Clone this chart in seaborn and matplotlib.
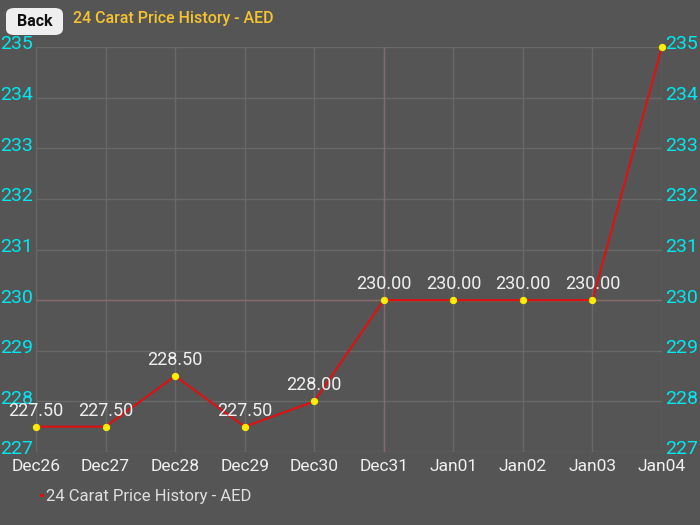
import matplotlib
matplotlib.use("Agg")
import matplotlib.pyplot as plt
import seaborn as sns
import pandas as pd
from matplotlib.patches import FancyBboxPatch

dates = ["Dec26", "Dec27", "Dec28", "Dec29", "Dec30", "Dec31", "Jan01", "Jan02", "Jan03", "Jan04"]
prices = [227.5, 227.5, 228.5, 227.5, 228.0, 230.0, 230.0, 230.0, 230.0, 235.0]
yticks = [227, 228, 229, 230, 231, 232, 233, 234, 235]
title = "24 Carat Price History - AED"

df = pd.DataFrame({"idx": range(len(dates)), "date": dates, "price": prices})

sns.set_style("dark")
plt.rcParams["font.family"] = ["Roboto", "DejaVu Sans"]

bg = "#555555"
fig = plt.figure(figsize=(7, 5.25), dpi=100, facecolor=bg)
ax = fig.add_axes([36/700, 1-452/525, 626/700, 405/525])
ax.set_facecolor(bg)

sns.lineplot(data=df, x="idx", y="price", ax=ax, color="#e01010", linewidth=1.5,
             marker="o", markersize=4.5, markerfacecolor="#ffee00", markeredgecolor="#ffee00",
             zorder=5, clip_on=False)

ax.set_xlim(0, len(dates) - 1)
ax.set_ylim(227, 235)
for s in ax.spines.values():
    s.set_visible(False)

grid_c = "#686868"
for i in range(len(dates)):
    ax.axvline(i, color=grid_c, lw=1, zorder=1)
for y in yticks:
    ax.axhline(y, color=grid_c, lw=1, zorder=1)
# highlight crosshair
ax.axvline(5, color="#87686c", lw=1, zorder=2)
ax.axhline(230, color="#87686c", lw=1, zorder=2)

ax.set_xticks(range(len(dates)))
ax.set_xticklabels(dates, color="#f0f0f0", fontsize=12.5)
ax.tick_params(axis="x", length=0, pad=5)
ax.set_yticks([])
ax.set_xlabel("")
ax.set_ylabel("")

for y in yticks:
    ax.text(-0.005, y + 0.05, str(y), transform=ax.get_yaxis_transform(), ha="right", va="center",
            color="#00e8f0", fontsize=14)
    ax.text(1.005, y + 0.05, str(y), transform=ax.get_yaxis_transform(), ha="left", va="center",
            color="#00e8f0", fontsize=14)

for i, (d, p) in enumerate(zip(dates, prices)):
    if i == len(dates) - 1:
        continue
    ax.annotate(f"{p:.2f}", (i, p), xytext=(0, 5), textcoords="offset points",
                ha="center", va="bottom", color="#f0f0f0", fontsize=13, zorder=6)

# top bar: back button + title
btn = FancyBboxPatch((6/700, 1-35/525), 57/700, 27/525, boxstyle="round,pad=0,rounding_size=0.012",
                     transform=fig.transFigure, facecolor="#efefef", edgecolor="none")
fig.patches.append(btn)
fig.text(34.5/700, 1-21/525, "Back", ha="center", va="center", fontsize=11.5, fontweight="bold", color="#111111")
fig.text(73/700, 1-19/525, title, ha="left", va="center", fontsize=11.5, fontweight="medium", color="#f5c430")

# legend
fig.patches.append(plt.Rectangle((40/700, 1-497/525), 4/700, 3/525, transform=fig.transFigure,
                                 facecolor="#e01010", edgecolor="none"))
fig.text(46/700, 1-497/525, title, ha="left", va="center", fontsize=12, color="#e0e0e0")

fig.savefig("out.png", dpi=100, facecolor=bg)
